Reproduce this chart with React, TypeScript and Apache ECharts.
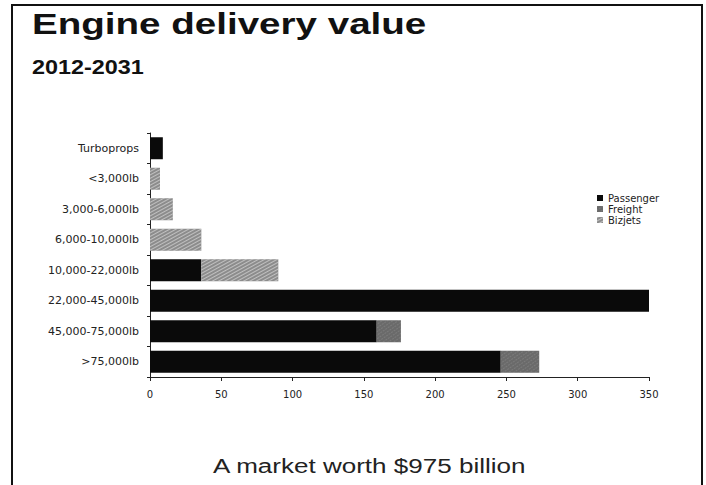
import React, { useEffect, useRef } from "react";
import * as echarts from "echarts";

const categories = [
  "Turboprops",
  "<3,000lb",
  "3,000-6,000lb",
  "6,000-10,000lb",
  "10,000-22,000lb",
  "22,000-45,000lb",
  "45,000-75,000lb",
  ">75,000lb",
];
const passenger = [9, 0, 0, 0, 36, 350, 159, 246];
const freight = [0, 0, 0, 0, 0, 0, 17, 27];
const bizjets = [0, 7, 16, 36, 54, 0, 0, 0];
const xTicks = { min: 0, max: 350, interval: 50 };

const titleText = "Engine delivery value";
const subtitleText = "2012-2031";
const footerText = "A market worth $975 billion";

export default function App() {
  const ref = useRef<HTMLDivElement>(null);
  useEffect(() => {
    if (!ref.current) return;
    const chart = echarts.init(ref.current, undefined, { renderer: "svg" });
    const labelFont = "DejaVu Sans";
    chart.setOption({
      animation: false,
      backgroundColor: "#ffffff",
      grid: { left: 150, top: 133, width: 499, height: 244, containLabel: false },
      legend: {
        orient: "vertical",
        left: 597,
        top: 193,
        padding: 0,
        itemGap: 1,
        itemWidth: 6,
        itemHeight: 6,
        icon: "rect",
        textStyle: { fontFamily: labelFont, fontSize: 10, lineHeight: 10, color: "#222" },
        data: ["Passenger", "Freight", "Bizjets"],
      },
      xAxis: {
        type: "value",
        min: xTicks.min,
        max: xTicks.max,
        interval: xTicks.interval,
        axisLine: { show: true, lineStyle: { color: "#222", width: 1 } },
        axisTick: { show: true, length: 4, lineStyle: { color: "#222" } },
        splitLine: { show: false },
        axisLabel: { fontFamily: labelFont, fontSize: 10, color: "#222", margin: 12 },
      },
      yAxis: {
        type: "category",
        inverse: true,
        data: categories,
        axisLine: { show: true, lineStyle: { color: "#222", width: 1 } },
        axisTick: { show: true, length: 3, lineStyle: { color: "#222" } },
        axisLabel: { fontFamily: labelFont, fontSize: 11, color: "#222", margin: 11 },
      },
      series: [
        {
          name: "Passenger",
          type: "bar",
          stack: "total",
          barWidth: 22,
          data: passenger,
          itemStyle: { color: "#0a0a0a" },
        },
        {
          name: "Freight",
          type: "bar",
          stack: "total",
          barWidth: 22,
          data: freight,
          itemStyle: {
            color: "#6a6a6a",
            decal: {
              symbol: "rect",
              symbolSize: 0.5,
              color: "rgba(220,220,220,0.6)",
              dashArrayX: [2, 1],
              dashArrayY: [1, 2],
              rotation: -0.6,
            },
          },
        },
        {
          name: "Bizjets",
          type: "bar",
          stack: "total",
          barWidth: 22,
          data: bizjets,
          itemStyle: {
            color: "#8c8c8c",
            decal: {
              symbol: "rect",
              symbolSize: 1,
              color: "rgba(235,235,235,0.55)",
              dashArrayX: [1, 0],
              dashArrayY: [1, 2],
              rotation: -0.5,
            },
          },
        },
      ],
      graphic: [
        {
          type: "rect",
          shape: { x: 12, y: 5, width: 690, height: 500 },
          style: { fill: "none", stroke: "#111", lineWidth: 2 },
          silent: true,
        },
        {
          type: "text",
          x: 32,
          y: 9,
          scaleX: 1.33,
          style: {
            text: titleText,
            fontFamily: "Liberation Sans",
            fontWeight: "bold",
            fontSize: 29,
            fill: "#111",
            textVerticalAlign: "top",
          },
        },
        {
          type: "text",
          x: 32,
          y: 57,
          scaleX: 1.17,
          style: {
            text: subtitleText,
            fontFamily: "Liberation Sans",
            fontWeight: "bold",
            fontSize: 20,
            fill: "#111",
            textVerticalAlign: "top",
          },
        },
        {
          type: "text",
          x: 213,
          y: 455,
          scaleX: 1.24,
          style: {
            text: footerText,
            fontFamily: "Liberation Sans",
            fontSize: 21,
            fill: "#222",
            textVerticalAlign: "top",
          },
        },
      ],
    });
    return () => chart.dispose();
  }, []);
  return (
    <div
      ref={ref}
      style={{ position: "fixed", left: 0, top: 0, width: 706, height: 485, background: "#fff" }}
    />
  );
}
